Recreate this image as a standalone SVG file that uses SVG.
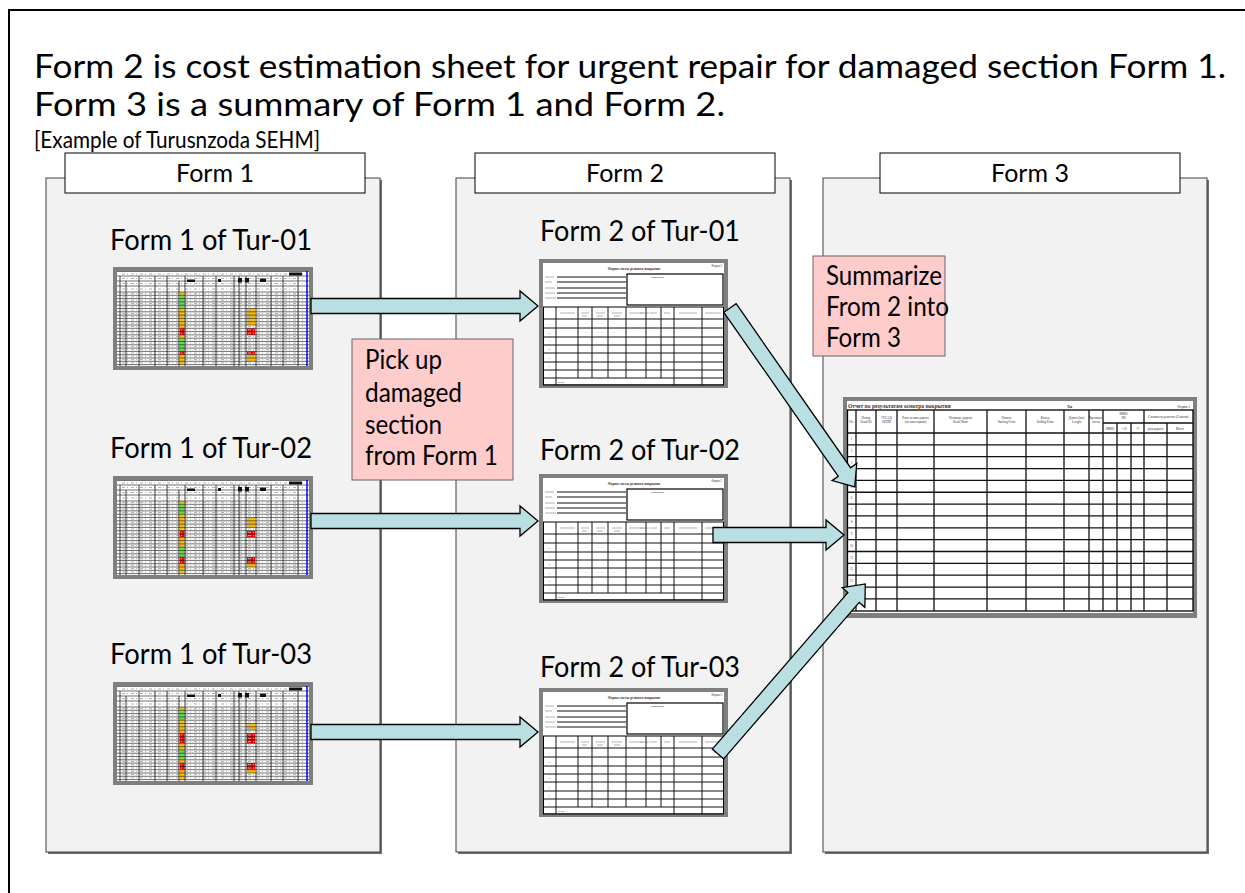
<svg xmlns="http://www.w3.org/2000/svg" width="1245" height="893" viewBox="0 0 1245 893">
<style>
.t{font-family:Lato,"Open Sans","Liberation Sans",sans-serif;fill:#000}
.panel{fill:#f2f2f2;stroke:#404040;stroke-width:1}
.shadow{fill:#6e6e6e}
.tab{fill:#fff;stroke:#000;stroke-width:1}
.arrow{fill:#b9dfe2;stroke:#000;stroke-width:1.3}
.note{fill:#ffcccc;stroke:#666;stroke-width:1}
.frame{fill:#7f7f7f}
.sheet{fill:#fff}
.ln{stroke:#111;fill:none}
.mk{stroke:#b0b0b0;fill:none}
.tiny{font-family:"Liberation Serif",serif;fill:#333}
.O{fill:#ffc000}.G{fill:#5fe04a}.R{fill:#ff0000}
</style>
<defs>
<g id="f1base">
<rect class="frame" width="200" height="103"/>
<rect class="sheet" x="4" y="4" width="192" height="95"/>
</g>
<g id="f1lines">
<path class="mk" stroke-width="1" stroke-dasharray="3 2 1 3" d="M9 26.6H190M9 29.9H190M9 33.2H190M9 36.5H190M9 39.8H190M9 43.1H190M9 46.4H190M9 49.7H190M9 53H190M9 56.3H190M9 59.6H190M9 62.9H190M9 66.2H190M9 69.5H190M9 72.8H190M9 76.1H190M9 79.4H190M9 82.7H190M9 86H190M9 89.3H190M9 92.6H190M9 95.9H190M9 7H190M9 11.5H190M9 16.5H190M9 22H190"/>
<path class="ln" stroke-width="0.6" d="M4 4.5H196M4 9H196M4 14H196M4 19H196M4 25H196M4 28.3H196M4 31.6H196M4 34.9H196M4 38.2H196M4 41.5H196M4 44.8H196M4 48.1H196M4 51.4H196M4 54.7H196M4 58H196M4 61.3H196M4 64.6H196M4 67.9H196M4 71.2H196M4 74.5H196M4 77.8H196M4 81.1H196M4 84.4H196M4 87.7H196M4 91H196M4 94.3H196M4 97.6H196"/>
<path class="ln" stroke-width="0.8" d="M7 9V99M13 14V99M26 9V99M42 9V99M54 9V99M66 14V99M72 9V99M90 9V99M103 9V99M121 9V99M126 9V99M133 9V99M143 9V99M158 9V99M170 9V99M185 9V99"/>
<rect x="74" y="12.5" width="8" height="2.5" fill="#111"/>
<rect x="105" y="12" width="3" height="3" fill="#111"/>
<rect x="125" y="11" width="4" height="4.5" fill="#111"/>
<rect x="132" y="11" width="4" height="4.5" fill="#111"/>
<rect x="147" y="11.5" width="6" height="3.5" fill="#111"/>
<rect x="176" y="5.5" width="13" height="3" fill="#111"/>
<line x1="194" y1="4" x2="194" y2="99" stroke="#0000ff" stroke-width="1.5"/>
</g>
<g id="f2t">
<rect class="frame" width="189" height="129"/>
<rect class="sheet" x="4" y="4" width="181" height="121"/>
<text class="tiny" x="95" y="11" font-size="3.5" font-weight="bold" text-anchor="middle">Форма сметы ремонта покрытия</text>
<text class="tiny" x="183" y="8" font-size="3" text-anchor="end">Форма 2</text>
<path class="mk" stroke-width="1" d="M6 18H15M6 23H13M6 29H16M6 34H16M6 39H17M112 18.5H125M101 54H110M21 54H36M42 54H50M57 54H66M73 54H83M90 54H104M111 54H118M125 54H131M140 54H158M166 54H182M43 57H48M58 57H64M75 57H81"/>
<path class="ln" stroke-width="1.1" d="M18 18H87M18 23H87M18 29H87M18 34H87M18 39H87"/>
<rect x="88" y="15" width="96" height="31" fill="none" stroke="#000" stroke-width="1.2"/>
<rect x="4.5" y="48" width="180" height="78" fill="none" stroke="#000" stroke-width="1"/>
<path class="ln" stroke-width="1" d="M4 60H185M4 69H185M4 78H185M4 86H185M4 94H185M4 103H185M4 111H185M4 119H185M17 48V126M39 48V119M53 48V119M69 48V119M87 48V119M107 48V119M122 48V119M135 48V126M163 48V126"/>
<g class="tiny" font-size="2.6" text-anchor="middle">
<text x="10.5" y="65.5">1</text><text x="10.5" y="74.5">2</text><text x="10.5" y="83">3</text><text x="10.5" y="91">4</text><text x="10.5" y="99.5">5</text><text x="10.5" y="108">6</text><text x="10.5" y="116">7</text>
</g>
<text class="tiny" x="19" y="123.5" font-size="2.6">Итого</text>
</g>
</defs>

<rect x="9" y="10" width="1250" height="900" fill="#fff" stroke="#000" stroke-width="2"/>

<g id="title">
<text class="t" x="34" y="78" font-size="32" textLength="1192" lengthAdjust="spacingAndGlyphs">Form 2 is cost estimation sheet for urgent repair for damaged section Form 1.</text>
<text class="t" x="34" y="116" font-size="32" textLength="691" lengthAdjust="spacingAndGlyphs">Form 3 is a summary of Form 1 and Form 2.</text>
<text class="t" x="34" y="148" font-size="24" textLength="286" lengthAdjust="spacingAndGlyphs">[Example of Turusnzoda SEHM]</text>
</g>

<g id="panel-form1">
<rect class="shadow" x="48" y="180" width="334" height="674"/>
<rect class="panel" x="46" y="178" width="334" height="674"/>
<rect class="tab" x="65" y="153" width="300" height="40"/>
<text class="t" x="215" y="182" font-size="25" text-anchor="middle">Form 1</text>
</g>
<g id="panel-form2">
<rect class="shadow" x="458" y="180" width="334" height="674"/>
<rect class="panel" x="456" y="178" width="334" height="674"/>
<rect class="tab" x="475" y="153" width="300" height="40"/>
<text class="t" x="625" y="182" font-size="25" text-anchor="middle">Form 2</text>
</g>
<g id="panel-form3">
<rect class="shadow" x="825" y="180" width="384" height="674"/>
<rect class="panel" x="823" y="178" width="384" height="674"/>
<rect class="tab" x="880" y="153" width="300" height="40"/>
<text class="t" x="1030" y="182" font-size="25" text-anchor="middle">Form 3</text>
</g>

<g id="form1-tur01">
<text class="t" x="110" y="250" font-size="28" textLength="202" lengthAdjust="spacingAndGlyphs">Form 1 of Tur-01</text>
<g transform="translate(113,267)">
<use href="#f1base"/>
<rect class="O" x="67" y="25" width="4.5" height="3.3"/><rect class="G" x="67" y="28.3" width="4.5" height="13.2"/><rect class="O" x="67" y="41.5" width="4.5" height="19.8"/><rect class="R" x="67" y="61.3" width="4.5" height="6.6"/><rect class="O" x="67" y="67.9" width="4.5" height="3.3"/><rect class="G" x="67" y="71.2" width="4.5" height="13.2"/><rect class="R" x="67" y="84.4" width="4.5" height="3.3"/><rect class="O" x="67" y="87.7" width="4.5" height="9.9"/>
<rect class="O" x="134" y="41.5" width="8" height="16.5"/><rect class="R" x="134" y="61.3" width="8" height="6.6"/><rect class="R" x="134" y="84.4" width="8" height="3.3"/><rect class="O" x="134" y="87.7" width="8" height="6.6"/>
<use href="#f1lines"/>
</g>
</g>
<g id="form1-tur02">
<text class="t" x="110" y="458" font-size="28" textLength="202" lengthAdjust="spacingAndGlyphs">Form 1 of Tur-02</text>
<g transform="translate(113,476)">
<use href="#f1base"/>
<rect class="O" x="67" y="25" width="4.5" height="3.3"/><rect class="G" x="67" y="28.3" width="4.5" height="9.9"/><rect class="O" x="67" y="38.2" width="4.5" height="16.5"/><rect class="R" x="67" y="54.7" width="4.5" height="6.6"/><rect class="O" x="67" y="61.3" width="4.5" height="9.9"/><rect class="G" x="67" y="71.2" width="4.5" height="9.9"/><rect class="R" x="67" y="81.1" width="4.5" height="6.6"/><rect class="O" x="67" y="87.7" width="4.5" height="9.9"/>
<rect class="O" x="134" y="41.5" width="8" height="9.9"/><rect class="R" x="134" y="54.7" width="8" height="6.6"/><rect class="R" x="134" y="81.1" width="8" height="6.6"/><rect class="O" x="134" y="87.7" width="8" height="3.3"/>
<use href="#f1lines"/>
</g>
</g>
<g id="form1-tur03">
<text class="t" x="110" y="664" font-size="28" textLength="202" lengthAdjust="spacingAndGlyphs">Form 1 of Tur-03</text>
<g transform="translate(113,682)">
<use href="#f1base"/>
<rect class="O" x="67" y="25" width="4.5" height="3.3"/><rect class="G" x="67" y="28.3" width="4.5" height="9.9"/><rect class="O" x="67" y="38.2" width="4.5" height="13.2"/><rect class="R" x="67" y="51.4" width="4.5" height="9.9"/><rect class="O" x="67" y="61.3" width="4.5" height="6.6"/><rect class="G" x="67" y="67.9" width="4.5" height="9.9"/><rect class="O" x="67" y="77.8" width="4.5" height="3.3"/><rect class="R" x="67" y="81.1" width="4.5" height="6.6"/><rect class="O" x="67" y="87.7" width="4.5" height="9.9"/>
<rect class="O" x="134" y="41.5" width="8" height="6.6"/><rect class="R" x="134" y="51.4" width="8" height="9.9"/><rect class="R" x="134" y="81.1" width="8" height="6.6"/><rect class="O" x="134" y="87.7" width="8" height="3.3"/>
<use href="#f1lines"/>
</g>
</g>

<g id="form2-tur01">
<text class="t" x="540" y="241" font-size="28" textLength="200" lengthAdjust="spacingAndGlyphs">Form 2 of Tur-01</text>
<use href="#f2t" x="539" y="259"/>
</g>
<g id="form2-tur02">
<text class="t" x="540" y="460" font-size="28" textLength="200" lengthAdjust="spacingAndGlyphs">Form 2 of Tur-02</text>
<use href="#f2t" x="539" y="474"/>
</g>
<g id="form2-tur03">
<text class="t" x="540" y="677" font-size="28" textLength="200" lengthAdjust="spacingAndGlyphs">Form 2 of Tur-03</text>
<use href="#f2t" x="539" y="688"/>
</g>

<g id="form3-summary">
<rect class="frame" x="843" y="397" width="354" height="221"/>
<rect class="sheet" x="847" y="401" width="346" height="212"/>
<text class="tiny" x="848" y="408" font-size="5.5" font-weight="bold" fill="#111">Отчет по результатам осмотра покрытия</text>
<text class="tiny" x="1067" y="408" font-size="5" font-weight="bold" fill="#111">За</text>
<text class="tiny" x="1190" y="408" font-size="3.5" text-anchor="end">Форма 3</text>
<rect x="847.5" y="410" width="345.5" height="201" fill="none" stroke="#000" stroke-width="1.3"/>
<path class="ln" stroke-width="1.3" d="M847 433H1193M847 444.85H1193M847 456.7H1193M847 468.55H1193M847 480.4H1193M847 492.25H1193M847 504.1H1193M847 515.95H1193M847 527.8H1193M847 539.65H1193M847 551.5H1193M847 563.35H1193M847 575.2H1193M847 587.05H1193M847 598.9H1193M1103 423H1193M856 410V611M876 410V611M897 410V611M934 410V611M987 410V611M1026 410V611M1064 410V611M1089 410V611M1103 410V611M1144 410V611M1117 423V611M1131 423V611M1167 423V611"/>
<g class="tiny" font-size="3.2" text-anchor="middle">
<text x="851.5" y="423">No.</text>
<text x="866" y="419">Номер</text><text x="866" y="423">Road ID</text>
<text x="886.5" y="419">ГУСАД</text><text x="886.5" y="423">SEHM</text>
<text x="915.5" y="419">Роль хозяин дороги</text><text x="915.5" y="423">(по категориям)</text>
<text x="960.5" y="419">Название дороги</text><text x="960.5" y="423">Road Name</text>
<text x="1006.5" y="419">Начало</text><text x="1006.5" y="423">Starting Point</text>
<text x="1045" y="419">Конец</text><text x="1045" y="423">Ending Point</text>
<text x="1076.5" y="419">Длина (km)</text><text x="1076.5" y="423">Length</text>
<text x="1096" y="419">Протяжен-</text><text x="1096" y="423">ность</text>
<text x="1123.5" y="414.5">ММО</text><text x="1123.5" y="418.5">IRI</text>
<text x="1110" y="429.5">ММО</text><text x="1124" y="429.5">&gt;10</text><text x="1137.5" y="429.5">&gt;7</text>
<text x="1168.5" y="418">Стоимость ремонта (Сомони)</text>
<text x="1155.5" y="429.5">рем.дороги</text><text x="1180" y="429.5">Итого</text>
<text x="851.5" y="440">1</text><text x="851.5" y="452">2</text><text x="851.5" y="463.8">3</text><text x="851.5" y="475.6">4</text><text x="851.5" y="487.5">5</text><text x="851.5" y="499.3">6</text><text x="851.5" y="511.2">7</text><text x="851.5" y="523">8</text><text x="851.5" y="534.9">9</text><text x="851.5" y="546.7">10</text><text x="851.5" y="558.6">11</text><text x="851.5" y="570.4">12</text><text x="851.5" y="582.3">13</text><text x="851.5" y="594.1">14</text><text x="851.5" y="606">15</text>
</g>
</g>

<g id="connectors">
<polygon class="arrow" points="311,298.5 520,298.5 520,291 538,306 520,321 520,313.5 311,313.5"/>
<polygon class="arrow" points="311,513.5 520,513.5 520,506 538,521 520,536 520,528.5 311,528.5"/>
<polygon class="arrow" points="311,724.5 520,724.5 520,717 538,732 520,747 520,739.5 311,739.5"/>
<polygon class="arrow" points="713,527.5 826,527.5 826,520 844,535 826,550 826,542.5 713,542.5"/>
<polygon class="arrow" transform="translate(730,308) rotate(55.1)" points="0,-7.5 200,-7.5 200,-15 218,0 200,15 200,7.5 0,7.5"/>
<polygon class="arrow" transform="translate(718,754) rotate(-49.1)" points="0,-7.5 207,-7.5 207,-15 225,0 207,15 207,7.5 0,7.5"/>
</g>

<g id="note-pickup">
<rect class="note" x="352" y="339" width="161" height="141"/>
<text class="t" x="365" y="369" font-size="26" textLength="77" lengthAdjust="spacingAndGlyphs">Pick up</text>
<text class="t" x="365" y="402" font-size="26" textLength="97" lengthAdjust="spacingAndGlyphs">damaged</text>
<text class="t" x="365" y="434" font-size="26" textLength="77" lengthAdjust="spacingAndGlyphs">section</text>
<text class="t" x="365" y="465" font-size="26" textLength="133" lengthAdjust="spacingAndGlyphs">from Form 1</text>
</g>
<g id="note-summarize">
<rect class="note" x="813" y="256" width="132" height="100"/>
<text class="t" x="826" y="285" font-size="26" textLength="116" lengthAdjust="spacingAndGlyphs">Summarize</text>
<text class="t" x="826" y="316" font-size="26" textLength="123" lengthAdjust="spacingAndGlyphs">From 2 into</text>
<text class="t" x="826" y="347" font-size="26" textLength="75" lengthAdjust="spacingAndGlyphs">Form 3</text>
</g>
</svg>
